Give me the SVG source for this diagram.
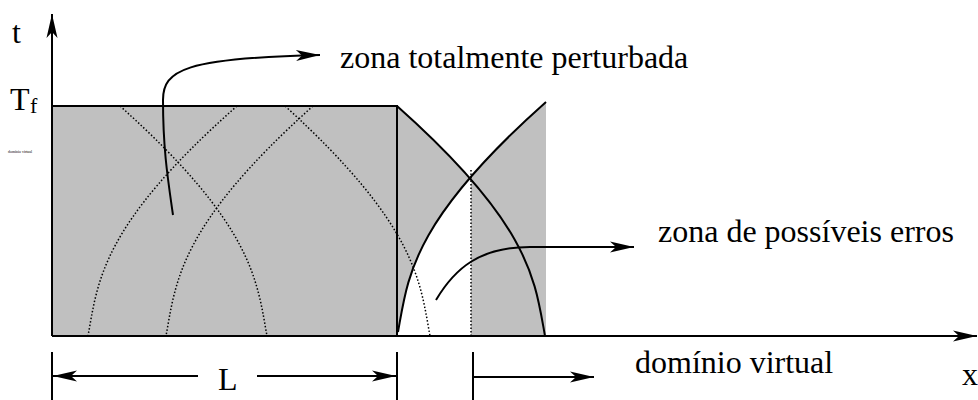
<svg xmlns="http://www.w3.org/2000/svg" width="978" height="400" viewBox="0 0 978 400">
<style>
.ln{fill:none;stroke:#000;stroke-width:2}
.dot{fill:none;stroke:#000;stroke-width:1.5;stroke-dasharray:1.5 2}
.gray{fill:#c0c0c0;stroke:none}
</style>
<defs>
<marker id="ah" markerUnits="userSpaceOnUse" markerWidth="30" markerHeight="14" refX="24" refY="7" orient="auto" viewBox="0 0 30 14" overflow="visible">
<path d="M24,7 L0,1.5 L6,7 L0,12.5 Z" fill="#000"/>
</marker>
<clipPath id="underDesc"><path d="M397,106 c135,120 138,175 148,230 L397,336 Z"/></clipPath>
<clipPath id="belowRise"><path d="M546,102 c-135,120 -138,175 -148,230 L398,336 L546,336 Z"/></clipPath>
</defs>

<g id="regions">
<rect class="gray" x="52" y="106" width="345" height="230"/>
<g clip-path="url(#underDesc)"><path class="gray" d="M546,102 c-135,120 -138,175 -148,230 L398,336 L397,336 L397,100 L546,100 Z"/></g>
<rect class="gray" x="471" y="100" width="75" height="236" clip-path="url(#belowRise)"/>
</g>

<g id="characteristics">
<path class="dot" d="M120,106 c134,120 137,175 147,230"/>
<path class="dot" d="M237,106 c-136,120 -139,175 -149,230"/>
<path class="dot" d="M285,106 c132,120 135,175 145,230"/>
<path class="dot" d="M313,106 c-134,120 -137,175 -147,230"/>
<path class="dot" d="M471,170 V336"/>
</g>

<g id="axes">
<path class="ln" d="M52,336 V14" marker-end="url(#ah)"/>
<path class="ln" d="M52,336 H977" marker-end="url(#ah)"/>
<text x="12" y="43" font-size="32" font-family="Liberation Serif">t</text>
<text x="962" y="385" font-size="32" font-family="Liberation Serif">x</text>
<text x="10" y="110" font-size="32" font-family="Liberation Serif">T</text>
<text x="30" y="113" font-size="22" font-family="Liberation Serif">f</text>
<text x="8" y="153" font-size="3.9" font-family="Liberation Serif">domínio virtual</text>
</g>

<g id="boundaries">
<path class="ln" d="M52,106 H397 V336"/>
<path class="ln" d="M397,106 c135,120 138,175 148,230"/>
<path class="ln" d="M546,102 c-135,120 -138,175 -148,230"/>
</g>

<g id="connectors">
<path class="ln" d="M173,215 C168,180 163,150 163,100 C163,70 185,58 320,55" marker-end="url(#ah)"/>
<path class="ln" d="M436,300 C455,268 480,247 530,247 L634,247" marker-end="url(#ah)"/>
</g>

<g id="label-zona-perturbada"><text x="340" y="68" font-size="32" font-family="Liberation Serif">zona totalmente perturbada</text></g>
<g id="label-zona-erros"><text x="658" y="242" font-size="32" font-family="Liberation Serif">zona de possíveis erros</text></g>

<g id="dimensions">
<path class="ln" d="M52,352 V400 M397,352 V400 M473,352 V400"/>
<path class="ln" d="M198,376 H53" marker-end="url(#ah)"/>
<path class="ln" d="M257,376 H396" marker-end="url(#ah)"/>
<path class="ln" d="M473,377 H594" marker-end="url(#ah)"/>
<text x="218" y="390" font-size="32" font-family="Liberation Serif">L</text>
<text x="635" y="373" font-size="32" font-family="Liberation Serif">domínio virtual</text>
</g>
</svg>
